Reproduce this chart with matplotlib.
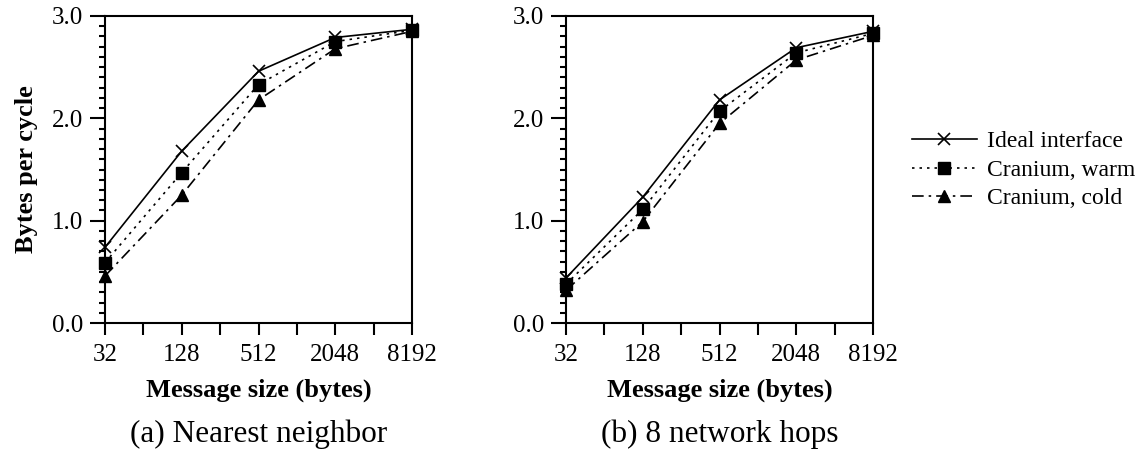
import matplotlib
matplotlib.use("Agg")
import matplotlib.pyplot as plt
from matplotlib.ticker import FixedLocator, MultipleLocator, NullFormatter, FixedFormatter
from matplotlib.lines import Line2D

plt.rcParams['font.family'] = ['Liberation Serif', 'DejaVu Serif']

sizes = [32, 128, 512, 2048, 8192]
minor_sizes = [64, 256, 1024, 4096]
series_names = ["Ideal interface", "Cranium, warm", "Cranium, cold"]

nn_ideal = [0.74, 1.68, 2.46, 2.79, 2.87]
nn_warm = [0.59, 1.47, 2.33, 2.75, 2.86]
nn_cold = [0.46, 1.25, 2.18, 2.68, 2.85]

hops_ideal = [0.44, 1.23, 2.18, 2.69, 2.85]
hops_warm = [0.38, 1.11, 2.07, 2.64, 2.83]
hops_cold = [0.32, 0.99, 1.95, 2.57, 2.81]

captions = ["(a) Nearest neighbor", "(b) 8 network hops"]

styles = [
    dict(linestyle='-', marker='x', markersize=9, markeredgewidth=1.2),
    dict(linestyle=(0, (1.5, 3)), marker='s', markersize=8),
    dict(linestyle=(0, (7, 3, 1.5, 3)), marker='^', markersize=9),
]

fig = plt.figure(figsize=(11.4, 4.54), dpi=100)
ax_w = 307 / 1140
ax_h = 307 / 454
ax_y = 1 - 323 / 454
lefts = [105 / 1140, 566 / 1140]
datasets = [[nn_ideal, nn_warm, nn_cold], [hops_ideal, hops_warm, hops_cold]]

for i, (x0, data) in enumerate(zip(lefts, datasets)):
    ax = fig.add_axes([x0, ax_y, ax_w, ax_h])
    for vals, st in zip(data, styles):
        ax.plot(sizes, vals, color='black', linewidth=1.2, clip_on=False, zorder=3, **st)
    ax.set_xscale('log', base=2)
    ax.set_xlim(32, 8192)
    ax.set_ylim(0, 3.0)
    ax.xaxis.set_major_locator(FixedLocator(sizes))
    ax.xaxis.set_major_formatter(FixedFormatter([str(s) for s in sizes]))
    ax.xaxis.set_minor_locator(FixedLocator(minor_sizes))
    ax.xaxis.set_minor_formatter(NullFormatter())
    ax.yaxis.set_major_locator(MultipleLocator(1.0))
    ax.yaxis.set_minor_locator(MultipleLocator(0.1))
    ax.yaxis.set_major_formatter(plt.FuncFormatter(lambda v, p: f"{v:.1f}"))
    ax.tick_params(axis='both', which='both', direction='out', width=1.5, labelsize=18, color='black')
    ax.tick_params(axis='y', which='major', length=10.5, pad=5)
    ax.tick_params(axis='y', which='minor', length=4.5)
    ax.tick_params(axis='x', which='both', length=8.5, pad=6.5)
    for sp in ax.spines.values():
        sp.set_linewidth(1.5)
    ax.set_xlabel("Message size (bytes)", fontsize=19, fontweight='bold', labelpad=9.5)
    if i == 0:
        ax.set_ylabel("Bytes per cycle", fontsize=19, fontweight='bold', labelpad=10)
    fig.text(x0 + ax_w / 2, 1 - 434 / 454, captions[i], ha='center', va='center', fontsize=22.5)

handles = [Line2D([0], [0], color='black', linewidth=1.2, **st) for st in styles]
fig.legend(handles, series_names, loc='center left', bbox_to_anchor=(912 / 1140, 1 - 170 / 454),
           frameon=False, fontsize=17, handlelength=2.75, handletextpad=0.42, labelspacing=0.3,
           borderpad=0, borderaxespad=0)

fig.savefig("out.png", dpi=100)
